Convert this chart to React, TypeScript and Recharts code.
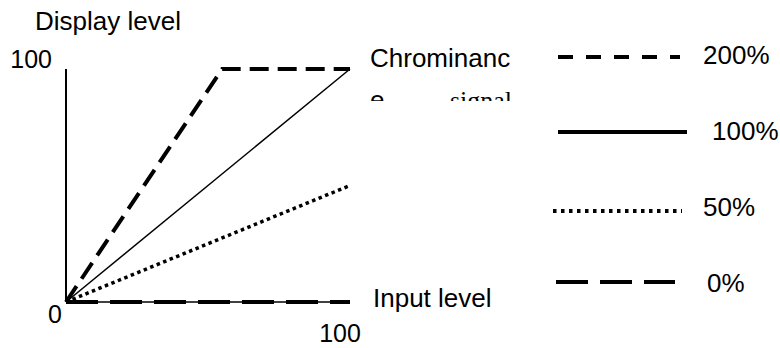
import React from 'react';
import { LineChart, Line, XAxis, YAxis } from 'recharts';

// Input level (x) and display level (y) for each chrominance gain curve
const input200 = [0, 55, 100];
const display200 = [0, 100, 100];
const input100 = [0, 100];
const display100 = [0, 100];
const input50 = [0, 100];
const display50 = [0, 50];
const input0 = [0, 100];
const display0 = [0, 0];

const xTicks = [100];
const yTicks = [0, 100];

const seriesNames = ['200%', '100%', '50%', '0%'];

const toRows = (xs: number[], ys: number[]) => xs.map((x, i) => ({ x, y: ys[i] }));

const data200 = toRows(input200, display200);
const data100 = toRows(input100, display100);
const data50 = toRows(input50, display50);
const data0 = toRows(input0, display0);

const FONT = '"Liberation Sans", Arial, sans-serif';

const styles = [
  { dash: '15 13', width: 4 },
  { dash: undefined, width: 4 },
  { dash: '3.5 4.5', width: 4 },
  { dash: '32 12', width: 4 },
];

const legendRows = [
  { lineY: 17, x1: 18, x2: 140, textX: 163, textY: 24 },
  { lineY: 92, x1: 18, x2: 147, textX: 172, textY: 100 },
  { lineY: 171, x1: 13, x2: 142, textX: 163, textY: 176 },
  { lineY: 242, x1: 16, x2: 135, textX: 167, textY: 252 },
];

const LegendBox = () => (
  <svg width={240} height={280} style={{ position: 'absolute', left: 540, top: 40, display: 'block' }}>
    {seriesNames.map((name, i) => {
      const r = legendRows[i];
      return (
        <g key={name}>
          <line x1={r.x1} x2={r.x2} y1={r.lineY} y2={r.lineY} stroke="#000" strokeWidth={styles[i].width} strokeDasharray={styles[i].dash} />
          <text x={r.textX} y={r.textY} fontFamily={FONT} fontSize={26} fill="#000">{name}</text>
        </g>
      );
    })}
  </svg>
);

const YTick = (props: any) => {
  const { y, payload } = props;
  if (payload.value === 0) {
    return <text x={62} y={y + 21} textAnchor="end" fontFamily={FONT} fontSize={25} fill="#000">0</text>;
  }
  return <text x={52} y={y - 1} textAnchor="end" fontFamily={FONT} fontSize={25} fill="#000">{payload.value}</text>;
};

const XTick = (props: any) => {
  const { x, payload } = props;
  return <text x={x - 10} y={342} textAnchor="middle" fontFamily={FONT} fontSize={25} fill="#000">{payload.value}</text>;
};

export default function App() {
  return (
    <div style={{ position: 'absolute', left: 0, top: 0, width: 780, height: 348, background: '#fff' }}>
      <LineChart width={780} height={348} margin={{ top: 69, right: 430, bottom: 16, left: 6 }}>
        <XAxis type="number" dataKey="x" domain={[0, 100]} ticks={xTicks} height={30} tickLine={false}
          axisLine={{ stroke: '#000', strokeWidth: 1.5 }} tick={<XTick />} interval={0} />
        <YAxis type="number" dataKey="y" domain={[0, 100]} ticks={yTicks} width={60} tickLine={false}
          axisLine={{ stroke: '#000', strokeWidth: 2 }} tick={<YTick />} interval={0} />
        <Line data={data0} dataKey="y" name="0%" stroke="#000" strokeWidth={4} strokeDasharray="32 12" dot={false} isAnimationActive={false} />
        <Line data={data50} dataKey="y" name="50%" stroke="#000" strokeWidth={3.5} strokeDasharray="3.5 3.5" dot={false} isAnimationActive={false} />
        <Line data={data100} dataKey="y" name="100%" stroke="#000" strokeWidth={1.5} dot={false} isAnimationActive={false} />
        <Line data={data200} dataKey="y" name="200%" stroke="#000" strokeWidth={4} strokeDasharray="19 9" dot={false} isAnimationActive={false} />
        <defs>
          <clipPath id="clipSecond">
            <rect x={360} y={80} width={180} height={21} />
          </clipPath>
        </defs>
        <text x={35} y={30} fontFamily={FONT} fontSize={26} fill="#000">Display level</text>
        <text x={370} y={67} fontFamily={FONT} fontSize={26} fill="#000">Chrominanc</text>
        <g clipPath="url(#clipSecond)">
          <text x={370} y={109} fontFamily={FONT} fontSize={26} fill="#000">e</text>
          <text x={512} y={109} textAnchor="end" fontFamily='"Liberation Serif", "Times New Roman", serif' fontSize={26} fill="#000">signal</text>
        </g>
        <text x={373} y={307} fontFamily={FONT} fontSize={26} fill="#000">Input level</text>
      </LineChart>
      <LegendBox />
    </div>
  );
}
